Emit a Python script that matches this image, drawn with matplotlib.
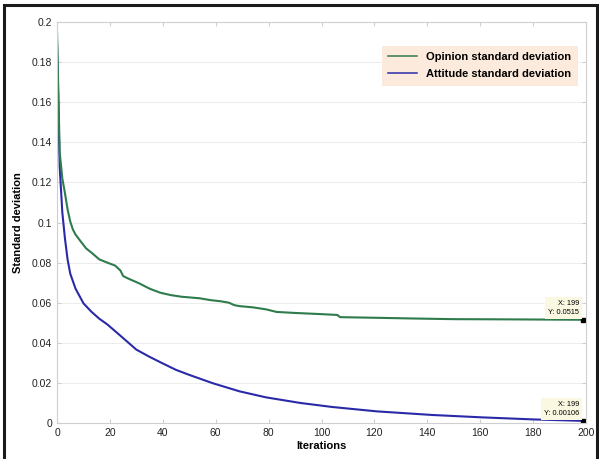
"""Opinion vs attitude standard deviation over iterations."""

import matplotlib
matplotlib.use("Agg")
import matplotlib.pyplot as plt
from matplotlib.patches import Rectangle
from matplotlib.ticker import FormatStrFormatter

plt.rcParams["font.family"] = ["Liberation Sans", "DejaVu Sans"]

# values
opinion_iter = [0, 1, 2, 3, 4, 5, 6, 7, 9, 11, 13, 16, 19, 22, 24, 25, 27, 31,
                35, 39, 43, 47, 54, 58, 62, 65, 67, 69, 74, 79, 83, 90, 100,
                106, 107, 120, 136, 150, 170, 199]
opinion_std = [0.195, 0.135, 0.122, 0.1146, 0.1065, 0.1005, 0.0965, 0.094,
               0.0905, 0.0871, 0.085, 0.0816, 0.080, 0.0785, 0.076, 0.0733,
               0.072, 0.0697, 0.067, 0.065, 0.0638, 0.063, 0.0622, 0.0613,
               0.0607, 0.060, 0.0588, 0.0583, 0.0577, 0.0567, 0.0554, 0.0549,
               0.0543, 0.0539, 0.0528, 0.0525, 0.0521, 0.0518, 0.0517, 0.0515]

attitude_iter = [0, 1, 2, 3, 4, 5, 7, 10, 13, 16, 19, 24, 30, 35, 40, 45, 50,
                 59, 69, 79, 92, 104, 121, 142, 161, 180, 199]
attitude_std = [0.19, 0.128, 0.105, 0.092, 0.0815, 0.0745, 0.067, 0.0597,
                0.0555, 0.052, 0.0492, 0.0435, 0.0366, 0.033, 0.0297, 0.0265,
                0.024, 0.0198, 0.0158, 0.0128, 0.0100, 0.0080, 0.0058, 0.0040,
                0.0028, 0.0018, 0.00106]

green = "#2e7b4b"
blue = "#2a2aa8"
grey = "#cfcfcf"

fig = plt.figure(figsize=(5.99, 4.59), dpi=100)
ax = fig.add_axes([0.0952, 0.0784, 0.8831, 0.8736])

ax.plot(attitude_iter, attitude_std, color=blue, lw=1.5,
        label="Attitude standard deviation")
ax.plot(opinion_iter, opinion_std, color=green, lw=1.5,
        label="Opinion standard deviation")

ax.set_xlim(0, 200)
ax.set_ylim(0, 0.2)
ax.set_xticks(range(0, 201, 20))
ax.set_yticks([i * 0.02 for i in range(11)])
ax.yaxis.set_major_formatter(FormatStrFormatter("%g"))
ax.tick_params(direction="in", length=3, color=grey, labelsize=7.5,
               top=True, right=True, labelcolor="#222222")
ax.yaxis.grid(True, color="#ececec", lw=0.7)
for sp in ax.spines.values():
    sp.set_color(grey)

ax.set_xlabel("Iterations", fontsize=8, fontweight="bold", labelpad=2)
ax.set_ylabel("Standard deviation", fontsize=8, fontweight="bold", labelpad=6)

handles, labels = ax.get_legend_handles_labels()
leg = ax.legend(handles[::-1], labels[::-1], loc="upper right",
                bbox_to_anchor=(0.995, 0.955),
                prop={"weight": "bold", "size": 8}, frameon=True,
                facecolor="#fcebdc", edgecolor="none", framealpha=1,
                fancybox=False, handlelength=2.6, borderpad=0.6,
                labelspacing=0.6)
for line in leg.get_lines():
    line.set_linewidth(1.1)

# data tips at the last iteration
for y_end, txt in [(opinion_std[-1], "X: 199\nY: 0.0515"),
                   (attitude_std[-1], "X: 199\nY: 0.00106")]:
    ax.plot([199], [y_end], marker="s", color="black", ms=3.5)
    ax.annotate(txt, (199, y_end), xytext=(-3, 3),
                textcoords="offset points", ha="right", va="bottom",
                fontsize=5.3, linespacing=1.35,
                bbox=dict(boxstyle="square,pad=0.4", fc="#fbf8e2", ec="none"))

# outer frame
fig.add_artist(Rectangle((4 / 599, -0.05), 593 / 599, 1 - 5 / 459 + 0.05,
                         transform=fig.transFigure, fill=False,
                         edgecolor="#1a1a1a", lw=2.2, clip_on=False))

fig.savefig("out.png", dpi=100)
